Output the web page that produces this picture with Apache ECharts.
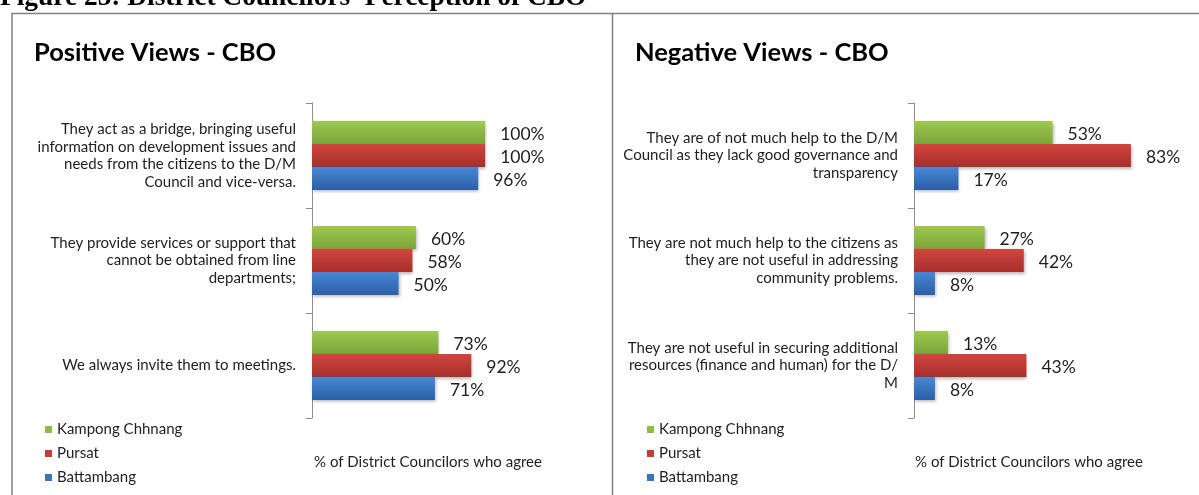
<!DOCTYPE html>
<html>
<head>
<meta charset="utf-8">
<title>District Councilors' Perception of CBO</title>
<script src="https://cdn.jsdelivr.net/npm/echarts@6/dist/echarts.min.js"></script>
<style>
  html, body { margin: 0; padding: 0; background: #ffffff; }
  #chart { width: 1199px; height: 495px; }
</style>
</head>
<body>
<div id="chart"></div>
<script>
// Survey statements (line breaks as they wrap beside the bars)
const positiveCategories = [
  'They act as a bridge, bringing useful\ninformation on development issues and\nneeds from the citizens to the D/M\nCouncil and vice-versa.',
  'They provide services or support that\ncannot be obtained from line\ndepartments;',
  'We always invite them to meetings.'
];
const negativeCategories = [
  'They are of not much help to the D/M\nCouncil as they lack good governance and\ntransparency',
  'They are not much help to the citizens as\nthey are not useful in addressing\ncommunity problems.',
  'They are not useful in securing additional\nresources (finance and human) for the D/\nM'
];

// Province names, in legend order
const provinces = ['Kampong Chhnang', 'Pursat', 'Battambang'];

// % of District Councilors who agree, per province
const positiveKampongChhnang = [100, 60, 73];
const positivePursat = [100, 58, 92];
const positiveBattambang = [96, 50, 71];

const negativeKampongChhnang = [53, 27, 13];
const negativePursat = [83, 42, 43];
const negativeBattambang = [17, 8, 8];

const axisTitle = '% of District Councilors who agree';
const figureCaption = "Figure 25: District Councilors' Perception of CBO";

const FONT = 'Lato, "Open Sans", sans-serif';

// Shaded fills (lighter on top, darker below)
function shade(top, bottom) {
  return new echarts.graphic.LinearGradient(0, 0, 0, 1, [
    { offset: 0, color: top },
    { offset: 1, color: bottom }
  ]);
}
const fills = [
  shade('#9fc94f', '#7aa439'),
  shade('#d4443f', '#a52f2b'),
  shade('#4788d6', '#2b5ea6')
];
const legendColors = ['#8dbb45', '#c33c38', '#3a74c0'];

function barSeries(name, data, idx, gridIdx) {
  return {
    name: name,
    type: 'bar',
    xAxisIndex: gridIdx,
    yAxisIndex: gridIdx,
    data: data,
    barGap: '0%',
    barCategoryGap: '34.3%',
    itemStyle: {
      color: fills[idx],
      shadowColor: 'rgba(0,0,0,0.28)',
      shadowBlur: 3,
      shadowOffsetX: 1,
      shadowOffsetY: 2
    },
    label: {
      show: true,
      position: 'right',
      distance: 15,
      offset: [0, 1.5],
      formatter: '{c}%',
      fontFamily: FONT,
      fontSize: 17.5,
      color: '#1e1e1e'
    },
    emphasis: { disabled: true }
  };
}

function categoryAxis(gridIdx, cats) {
  return {
    type: 'category',
    gridIndex: gridIdx,
    inverse: true,
    data: cats,
    axisLine: { show: true, lineStyle: { color: '#8c8c8c', width: 1 } },
    axisTick: { show: true, length: 6, lineStyle: { color: '#8c8c8c' } },
    axisLabel: {
      margin: 16,
      fontFamily: FONT,
      fontSize: 15,
      lineHeight: 17.5,
      color: '#1e1e1e',
      align: 'right',
      padding: [3, 0, 0, 0]
    }
  };
}

function valueAxis(gridIdx, max) {
  return {
    type: 'value',
    gridIndex: gridIdx,
    min: 0,
    max: max,
    axisLine: { show: false },
    axisTick: { show: false },
    axisLabel: { show: false },
    splitLine: { show: false },
    name: axisTitle,
    nameLocation: 'middle',
    nameGap: 37,
    nameTextStyle: { fontFamily: FONT, fontSize: 15, color: '#1e1e1e' }
  };
}

function legend(left) {
  return {
    orient: 'vertical',
    left: left,
    top: 416,
    itemWidth: 7,
    itemHeight: 7,
    itemGap: 7,
    icon: 'rect',
    selectedMode: false,
    data: provinces.map((p, i) => ({ name: p, itemStyle: { color: legendColors[i], shadowBlur: 0, shadowOffsetX: 0, shadowOffsetY: 0 } })),
    textStyle: { fontFamily: FONT, fontSize: 15, color: '#1e1e1e', lineHeight: 17 }
  };
}

const chart = echarts.init(document.getElementById('chart'), null, { renderer: 'canvas' });

chart.setOption({
  backgroundColor: '#ffffff',
  animation: false,
  title: [
    { text: 'Positive Views - CBO', left: 29, top: 35,
      textStyle: { fontFamily: FONT, fontSize: 25.5, fontWeight: 'bold', color: '#000' } },
    { text: 'Negative Views - CBO', left: 630, top: 35,
      textStyle: { fontFamily: FONT, fontSize: 25.5, fontWeight: 'bold', color: '#000' } }
  ],
  legend: [legend(40), legend(642)],
  grid: [
    { left: 312, top: 103, width: 232, height: 315, containLabel: false },
    { left: 914, top: 103, width: 230, height: 315, containLabel: false }
  ],
  xAxis: [valueAxis(0, 134), valueAxis(1, 88)],
  yAxis: [categoryAxis(0, positiveCategories), categoryAxis(1, negativeCategories)],
  series: [
    barSeries(provinces[0], positiveKampongChhnang, 0, 0),
    barSeries(provinces[1], positivePursat, 1, 0),
    barSeries(provinces[2], positiveBattambang, 2, 0),
    barSeries(provinces[0], negativeKampongChhnang, 0, 1),
    barSeries(provinces[1], negativePursat, 1, 1),
    barSeries(provinces[2], negativeBattambang, 2, 1)
  ],
  graphic: [
    {
      type: 'text',
      left: 0,
      top: -16,
      style: {
        text: figureCaption,
        font: 'bold 27.4px "Liberation Serif", "Times New Roman", serif',
        fill: '#000'
      }
    },
    {
      type: 'polyline',
      shape: { points: [[12, 495], [12, 13.5], [1199, 13.5]] },
      style: { stroke: '#808080', lineWidth: 1.5, fill: null }
    },
    {
      type: 'line',
      shape: { x1: 612.5, y1: 13.5, x2: 612.5, y2: 495 },
      style: { stroke: '#808080', lineWidth: 1.5 }
    }
  ]
});
</script>
</body>
</html>
